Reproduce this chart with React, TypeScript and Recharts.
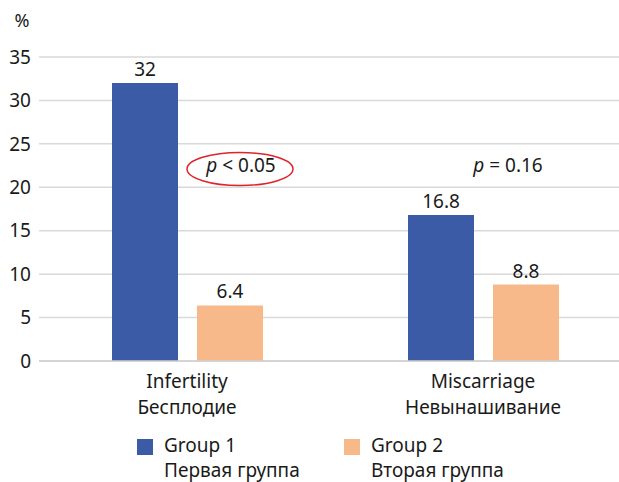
import { BarChart, Bar, XAxis, YAxis, CartesianGrid, Legend, LabelList } from "recharts";

const categories = ["Infertility", "Miscarriage"];
const categoriesRu = ["Бесплодие", "Невынашивание"];
const group1 = [32, 16.8];
const group2 = [6.4, 8.8];
const yTicks = [0, 5, 10, 15, 20, 25, 30, 35];
const seriesNames = ["Group 1", "Group 2"];
const seriesNamesRu = ["Первая группа", "Вторая группа"];
const seriesColors = ["#3b5ba6", "#f8b98a"];
const pSigns = ["<", "="];
const pValues = ["0.05", "0.16"];

const FONT = "'Noto Sans', 'DejaVu Sans', sans-serif";
const TEXT = "#1a1a1a";
const FS = 19;

const data = categories.map((c, i) => ({ name: c, g1: group1[i], g2: group2[i] }));

function CategoryTick({ x, y, payload, index }: any) {
  return (
    <text x={x} y={y} textAnchor="middle" fontSize={FS} fill={TEXT} fontFamily={FONT}>
      <tspan x={x} dy={19}>{payload.value}</tspan>
      <tspan x={x} dy={26}>{categoriesRu[index]}</tspan>
    </text>
  );
}

function LegendBlock() {
  const lefts = [137, 344];
  return (
    <div style={{ position: "relative", width: 619, height: 60, fontFamily: FONT, fontSize: FS, color: TEXT }}>
      {seriesNames.map((n, i) => (
        <div key={n} style={{ position: "absolute", left: lefts[i], top: 0 }}>
          <div style={{ position: "absolute", left: 0, top: 6, width: 16, height: 16, background: seriesColors[i] }} />
          <div style={{ position: "absolute", left: 27, top: 0, whiteSpace: "nowrap", lineHeight: "25px" }}>
            {n}
            <br />
            {seriesNamesRu[i]}
          </div>
        </div>
      ))}
    </div>
  );
}

export default function App() {
  return (
    <div style={{ position: "absolute", left: 0, top: 0, width: 619, height: 482, overflow: "hidden", background: "#fff" }}>
      <BarChart
        width={640}
        height={482}
        data={data}
        margin={{ top: 57, right: 9, bottom: 61, left: 0 }}
        barSize={66}
        barGap={19}
        style={{ fontFamily: FONT }}
      >
        <CartesianGrid vertical={false} stroke="#d9d9d9" strokeWidth={1.5} />
        <XAxis
          dataKey="name"
          axisLine={{ stroke: "#d0d0d0", strokeWidth: 1.5 }}
          tickLine={false}
          tick={<CategoryTick />}
          height={60}
          interval={0}
        />
        <YAxis
          width={39}
          domain={[0, 35]}
          ticks={yTicks}
          axisLine={false}
          tickLine={false}
          tick={{ fontSize: FS, fill: TEXT, fontFamily: FONT }}
        />
        <Legend
          layout="horizontal"
          verticalAlign="middle"
          align="center"
          wrapperStyle={{ position: "absolute", top: 433, left: 0, width: 619 }}
          content={() => <LegendBlock />}
        />
        <Bar dataKey="g1" name={seriesNames[0]} fill={seriesColors[0]} isAnimationActive={false}>
          <LabelList dataKey="g1" position="top" offset={7} fontSize={FS} fill={TEXT} fontFamily={FONT} />
        </Bar>
        <Bar dataKey="g2" name={seriesNames[1]} fill={seriesColors[1]} isAnimationActive={false}>
          <LabelList dataKey="g2" position="top" offset={7} fontSize={FS} fill={TEXT} fontFamily={FONT} />
        </Bar>
      </BarChart>
      {/* % unit and p-value notes */}
      <svg width={619} height={482} style={{ position: "absolute", left: 0, top: 0, pointerEvents: "none" }}>
        <text x={22} y={27} textAnchor="middle" fontSize={18} fill={TEXT} fontFamily={FONT}>%</text>
        <ellipse cx={240} cy={169} rx={53} ry={16.5} fill="none" stroke="#e0232b" strokeWidth={1.5} />
        {[241, 508].map((cx, i) => (
          <text key={i} x={cx} y={172} textAnchor="middle" fontSize={FS} fill={TEXT} fontFamily={FONT}>
            <tspan fontStyle="italic">p</tspan>
            {` ${pSigns[i]} ${pValues[i]}`}
          </text>
        ))}
      </svg>
    </div>
  );
}
